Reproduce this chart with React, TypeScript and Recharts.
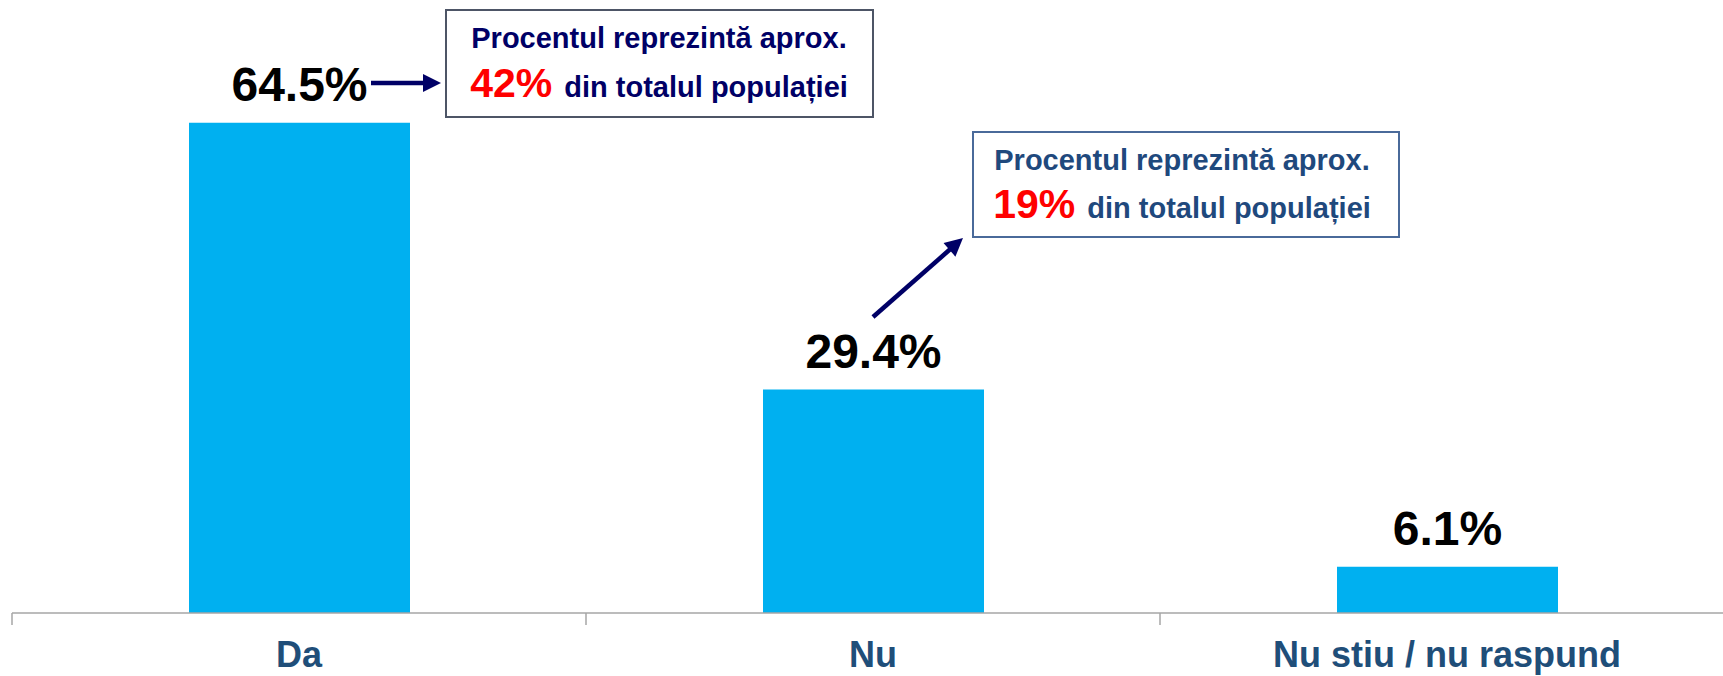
import React from 'react'
import { BarChart, Bar, XAxis, YAxis, LabelList } from 'recharts'

const categories = ['Da', 'Nu', 'Nu stiu / nu raspund']
const shares = [64.5, 29.4, 6.1]

const noteIntro = ['Procentul reprezintă aprox.', 'Procentul reprezintă aprox.']
const notePct = ['42%', '19%']
const noteRest = ['din totalul populației', 'din totalul populației']

const data = categories.map((name, i) => ({ name, value: shares[i] }))

const W = 1746
const H = 676
const LEFT = 12
const RIGHT = 12
const BAND = (W - LEFT - RIGHT) / categories.length
const FONT = '"Liberation Sans", Arial, sans-serif'

const AxisTick = (props: any) => {
  const { x, y, payload } = props
  const bx = LEFT + payload.index * BAND
  return (
    <g>
      <line x1={bx} x2={bx} y1={y - 12} y2={y} stroke="#A6A6A6" strokeWidth={1.5} />
      <text x={x} y={y + 42} textAnchor="middle" fontFamily={FONT} fontSize={36} fontWeight="bold" fill="#1F4E79">
        {payload.value}
      </text>
    </g>
  )
}

const Arrow = ({ x1, y1, x2, y2, color }: any) => {
  const len = Math.hypot(x2 - x1, y2 - y1)
  const ux = (x2 - x1) / len
  const uy = (y2 - y1) / len
  const head = 18
  const bx = x2 - ux * head
  const by = y2 - uy * head
  const px = -uy * 9
  const py = ux * 9
  return (
    <g>
      <line x1={x1} y1={y1} x2={bx + ux * 2} y2={by + uy * 2} stroke={color} strokeWidth={4.5} />
      <polygon points={`${x2},${y2} ${bx + px},${by + py} ${bx - px},${by - py}`} fill={color} />
    </g>
  )
}

const boxes = [
  { x: 446, y: 10, w: 427, h: 107, cx: 659, b1: 48, b2: 97, border: '#4D5566', text: '#000066' },
  { x: 973, y: 132, w: 426, h: 105, cx: 1182, b1: 170, b2: 218, border: '#4A6A9A', text: '#1F497D' },
]

export default function App() {
  return (
    <div style={{ position: 'fixed', left: 0, top: 0, width: 1723, height: 676, overflow: 'hidden', background: '#fff' }}>
      <BarChart width={W} height={H} data={data} margin={{ top: 81, right: RIGHT, bottom: 0, left: LEFT }}>
        <XAxis
          dataKey="name"
          height={63}
          tickSize={12}
          tickMargin={0}
          tickLine={false}
          axisLine={{ stroke: '#A6A6A6', strokeWidth: 1.5 }}
          tick={<AxisTick />}
          interval={0}
        />
        <YAxis hide domain={[0, 70]} />
        <Bar dataKey="value" fill="#00B0F0" barSize={221} isAnimationActive={false}>
          <LabelList
            dataKey="value"
            position="top"
            offset={22}
            formatter={(v: any) => `${v}%`}
            fill="#000"
            fontSize={48}
            fontWeight="bold"
            fontFamily={FONT}
          />
        </Bar>
      </BarChart>
      <svg width={1723} height={676} style={{ position: 'absolute', left: 0, top: 0, pointerEvents: 'none' }}>
        {boxes.map((b, i) => (
          <g key={i} fontFamily={FONT} fontWeight="bold">
            <rect x={b.x} y={b.y} width={b.w} height={b.h} fill="#fff" stroke={b.border} strokeWidth={2} />
            <text x={b.cx} y={b.b1} textAnchor="middle" fontSize={29} fill={b.text}>
              {noteIntro[i]}
            </text>
            <text x={b.cx} y={b.b2} textAnchor="middle" fontSize={29} fill={b.text}>
              <tspan fill="#FF0000" fontSize={41}>{notePct[i]}</tspan>
              <tspan dx={4}> {noteRest[i]}</tspan>
            </text>
          </g>
        ))}
        <Arrow x1={371} y1={83} x2={441} y2={83} color="#000066" />
        <Arrow x1={873} y1={317} x2={963} y2={238} color="#000066" />
      </svg>
    </div>
  )
}
